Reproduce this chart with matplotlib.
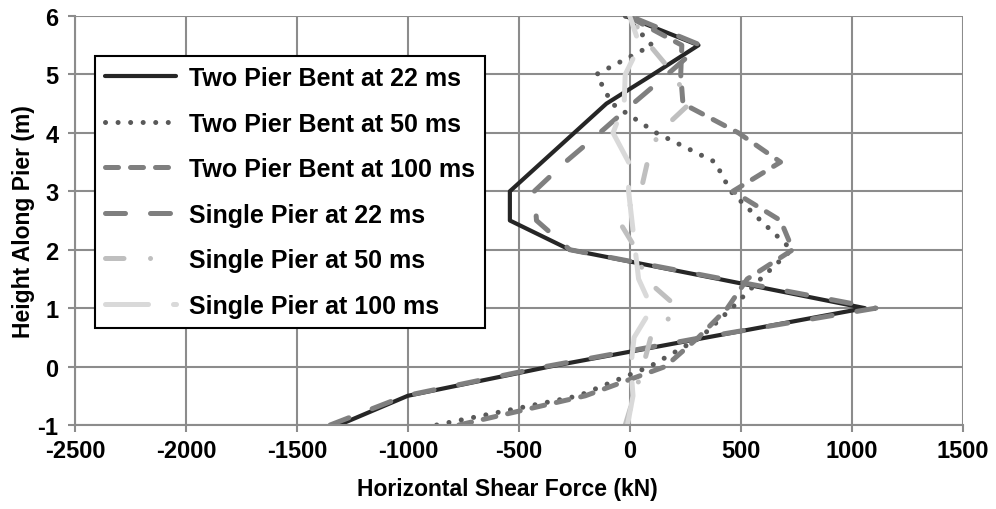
import numpy as np
import matplotlib as mpl
mpl.use('agg')
import matplotlib.pyplot as plt

plt.rcParams['font.family'] = ['Liberation Sans', 'DejaVu Sans']
plt.rcParams['font.weight'] = 'bold'
plt.rcParams['axes.unicode_minus'] = False

# heights along pier (m)
heights = [-1, -0.5, 0, 0.5, 1, 1.5, 2, 2.5, 3, 3.5, 4, 4.5, 5, 5.5, 6]

# horizontal shear force (kN) at each height
two_pier_22 = [-1310, -1000, -360, 350, 1060, 400, -270, -540, -540, -395, -250, -105, 105, 310, -20]
two_pier_50 = [-870, -230, 90, 320, 460, 590, 730, 590, 455, 385, 120, -80, -150, 100, -20]
two_pier_100 = [-770, -200, 160, 310, 440, 530, 735, 680, 465, 680, 490, 240, 230, 235, -10]
single_22 = [-1350, -1010, -380, 330, 1110, 420, -270, -420, -430, -290, -135, 15, 170, 320, 0]
single_50 = [-20, 20, 60, 95, 220, 70, 30, -50, 50, 80, 130, 270, 200, 90, 0]
single_100 = [-10, 15, 5, 20, 100, 40, 25, 10, -5, -5, -75, -25, -20, 45, 0]

labels = ['Two Pier Bent at 22 ms', 'Two Pier Bent at 50 ms', 'Two Pier Bent at 100 ms',
          'Single Pier at 22 ms', 'Single Pier at 50 ms', 'Single Pier at 100 ms']

fig = plt.figure(figsize=(9.96, 5.10), dpi=100)
ax = fig.add_axes([75 / 996, 84 / 510, 887.5 / 996, 409 / 510])

grid_c = '#8c8c8c'
ax.grid(True, color=grid_c, lw=1.5, zorder=0)
ax.set_axisbelow(True)

ax.plot(two_pier_22, heights, color='#262626', lw=3.0, solid_capstyle='round',
        label=labels[0])
ax.plot(two_pier_50, heights, color='#595959', lw=3.6, dashes=(0.01, 2.5),
        dash_capstyle='round', label=labels[1])
ax.plot(two_pier_100, heights, color='#7f7f7f', lw=3.6, dashes=(2.6, 2.4),
        dash_capstyle='round', label=labels[2])
ax.plot(single_22, heights, color='#7f7f7f', lw=3.6, dashes=(4.0, 5.0),
        dash_capstyle='round', label=labels[3])
ax.plot(single_50, heights, color='#bfbfbf', lw=3.6, dashes=(3.7, 5.3, 0.01, 5.3),
        dash_capstyle='round', label=labels[4])
ax.plot(single_100, heights, color='#d9d9d9', lw=3.6, dashes=(8.6, 5.0),
        dash_capstyle='round', label=labels[5])

ax.set_xlim(-2500, 1500)
ax.set_ylim(-1, 6)
ax.set_xticks(np.arange(-2500, 1501, 500))
ax.set_yticks(np.arange(-1, 7, 1))

for s in ['top', 'right']:
    ax.spines[s].set_visible(False)
for s in ['left', 'bottom']:
    ax.spines[s].set_color(grid_c)
    ax.spines[s].set_linewidth(1.5)

ax.tick_params(direction='out', length=5, width=1.5, color=grid_c,
               labelsize=17, colors='black')
ax.tick_params(axis='x', pad=5)
ax.tick_params(axis='y', pad=7)

ax.set_xlabel('Horizontal Shear Force (kN)', fontsize=16.5, fontweight='bold')
ax.xaxis.set_label_coords(0.487, -0.127)
ax.set_ylabel('Height Along Pier (m)', fontsize=16.5, fontweight='bold', labelpad=2)

leg = ax.legend(loc='upper left', bbox_to_anchor=(0.0225, 0.902), borderaxespad=0,
                fontsize=18, handlelength=2.85, handletextpad=0.5, labelspacing=0.86,
                fancybox=False, framealpha=1, edgecolor='black')
leg.get_frame().set_linewidth(1.5)

plt.savefig('out.png', dpi=100)
